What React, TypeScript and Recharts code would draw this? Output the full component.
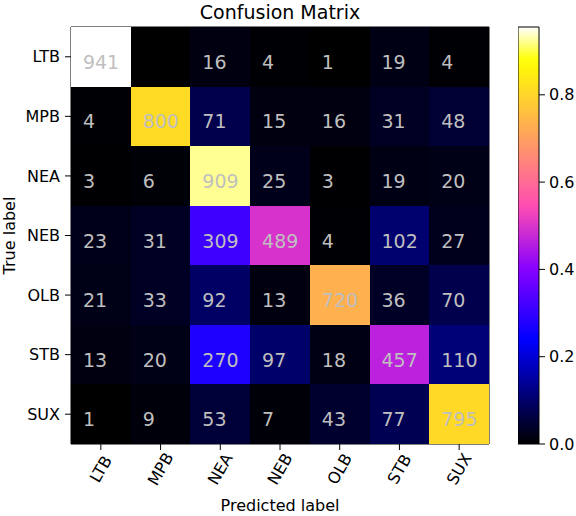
import { Bar, BarChart, Label, Scatter, ScatterChart, XAxis, YAxis } from 'recharts'

// class order is the same for rows (true) and columns (predicted)
const classNames = ['LTB', 'MPB', 'NEA', 'NEB', 'OLB', 'STB', 'SUX']

const ltbRow = [941, 0, 16, 4, 1, 19, 4]
const mpbRow = [4, 800, 71, 15, 16, 31, 48]
const neaRow = [3, 6, 909, 25, 3, 19, 20]
const nebRow = [23, 31, 309, 489, 4, 102, 27]
const olbRow = [21, 33, 92, 13, 720, 36, 70]
const stbRow = [13, 20, 270, 97, 18, 457, 110]
const suxRow = [1, 9, 53, 7, 43, 77, 795]

const confusionRows = [ltbRow, mpbRow, neaRow, nebRow, olbRow, stbRow, suxRow]
const colorbarTicks = [0, 0.2, 0.4, 0.6, 0.8]

const FONT = "'DejaVu Sans', sans-serif"
const TEXT_GREY = '#bfbfbf'

const PLOT_LEFT = 71
const PLOT_TOP = 27
const PLOT_W = 418
const PLOT_H = 417
const CELL_W = PLOT_W / classNames.length
const CELL_H = PLOT_H / classNames.length

const classIndex = classNames.map((_, i) => i)

// colour is row-normalised rate, scaled so the largest rate hits the top of the map
const cells = confusionRows.flatMap((row, i) => {
    const total = row.reduce((a, b) => a + b, 0)
    return row.map((count, j) => ({ pred: j, actual: i, count, rate: count / total }))
})
const VMAX = Math.max(...cells.map((c) => c.rate))
const colorbarData = [{ name: 'scale', top: VMAX }]

const clip = (v: number) => Math.min(1, Math.max(0, v))

// matplotlib gnuplot2 (rgbformulas 30, 31, 32)
const gnuplot2 = (t: number) => {
    const r = clip(t / 0.32 - 0.78125)
    const g = clip(2 * t - 0.84)
    let b: number
    if (t < 0.25) b = 4 * t
    else if (t < 0.42) b = 1
    else if (t < 0.92) b = -2 * t + 1.84
    else b = t / 0.08 - 11.5
    b = clip(b)
    const hex = (v: number) => Math.round(v * 255).toString(16).padStart(2, '0')
    return `#${hex(r)}${hex(g)}${hex(b)}`
}

const gradientStops = Array.from({ length: 41 }, (_, i) => i / 40)

const HeatCell = (props: any) => {
    const { cx, cy, payload } = props
    return (
        <g>
            <rect
                x={cx - CELL_W / 2}
                y={cy - CELL_H / 2}
                width={CELL_W}
                height={CELL_H}
                fill={gnuplot2(payload.rate / VMAX)}
                shapeRendering="crispEdges"
            />
            {payload.count > 0 && (
                <text
                    x={cx - 0.3 * CELL_W}
                    y={cy + 12}
                    fill={TEXT_GREY}
                    fontSize={19}
                    fontFamily={FONT}
                    textAnchor="start"
                >
                    {payload.count}
                </text>
            )}
        </g>
    )
}

const RotatedTick = (props: any) => {
    const { x, y, payload } = props
    const cy = y + 17
    return (
        <text
            x={x}
            y={cy}
            transform={`rotate(-60 ${x} ${cy})`}
            textAnchor="middle"
            dominantBaseline="central"
            fontSize={16}
            fontFamily={FONT}
            fill="#000"
        >
            {classNames[payload.value]}
        </text>
    )
}

const tickStyle = { fill: '#000', fontSize: 16, fontFamily: FONT }

export default function App() {
    return (
        <div style={{ position: 'absolute', left: 0, top: 0, width: 576, height: 516, background: '#fff' }}>
            <div
                style={{
                    position: 'absolute',
                    left: PLOT_LEFT,
                    top: 1,
                    width: PLOT_W,
                    textAlign: 'center',
                    fontFamily: FONT,
                    fontSize: 19,
                    lineHeight: '22px',
                    color: '#000',
                }}
            >
                Confusion Matrix
            </div>

            <div style={{ position: 'absolute', left: 0, top: 0 }}>
                <ScatterChart
                    width={PLOT_LEFT + PLOT_W + 11}
                    height={516}
                    margin={{ top: PLOT_TOP - 1, right: 10, bottom: 0, left: 0 }}
                >
                    <XAxis
                        dataKey="pred"
                        type="number"
                        domain={[-0.5, 6.5]}
                        ticks={classIndex}
                        interval={0}
                        height={72}
                        tickSize={6}
                        tickLine={{ stroke: '#000' }}
                        axisLine={{ stroke: '#000' }}
                        tick={<RotatedTick />}
                    >
                        <Label
                            value="Predicted label"
                            position="insideBottom"
                            offset={5}
                            style={{ fontSize: 16, fontFamily: FONT, fill: '#000' }}
                        />
                    </XAxis>
                    <XAxis
                        xAxisId="top"
                        orientation="top"
                        type="number"
                        domain={[-0.5, 6.5]}
                        height={1}
                        tick={false}
                        tickLine={false}
                        axisLine={{ stroke: '#000' }}
                    />
                    <YAxis
                        dataKey="actual"
                        type="number"
                        domain={[-0.5, 6.5]}
                        reversed
                        ticks={classIndex}
                        interval={0}
                        width={PLOT_LEFT}
                        tickSize={6}
                        tickMargin={5}
                        tickLine={{ stroke: '#000' }}
                        axisLine={{ stroke: '#000' }}
                        tick={tickStyle}
                        tickFormatter={(v: number) => classNames[v]}
                    >
                        <Label
                            content={(p: any) => {
                                const vb = p.viewBox
                                const lx = vb.x + 15
                                const ly = vb.y + vb.height / 2
                                return (
                                    <text
                                        x={lx}
                                        y={ly}
                                        transform={`rotate(-90 ${lx} ${ly})`}
                                        textAnchor="middle"
                                        fontSize={16}
                                        fontFamily={FONT}
                                        fill="#000"
                                    >
                                        True label
                                    </text>
                                )
                            }}
                        />
                    </YAxis>
                    <YAxis
                        yAxisId="right"
                        orientation="right"
                        type="number"
                        domain={[-0.5, 6.5]}
                        width={1}
                        tick={false}
                        tickLine={false}
                        axisLine={{ stroke: '#000' }}
                    />
                    <Scatter data={cells} shape={<HeatCell />} isAnimationActive={false} />
                </ScatterChart>
            </div>

            <div style={{ position: 'absolute', left: 518, top: 0 }}>
                <BarChart
                    width={58}
                    height={516}
                    data={colorbarData}
                    barCategoryGap={0}
                    margin={{ top: PLOT_TOP, right: 0, bottom: 516 - PLOT_TOP - PLOT_H, left: 0 }}
                >
                    <defs>
                        <linearGradient id="gnuplot2" x1="0" y1="1" x2="0" y2="0">
                            {gradientStops.map((t) => (
                                <stop key={t} offset={t} stopColor={gnuplot2(t)} />
                            ))}
                        </linearGradient>
                    </defs>
                    <XAxis dataKey="name" hide />
                    <YAxis
                        orientation="right"
                        type="number"
                        domain={[0, VMAX]}
                        ticks={colorbarTicks}
                        interval={0}
                        width={37}
                        tickSize={6}
                        tickMargin={4}
                        tickLine={{ stroke: '#000' }}
                        axisLine={false}
                        tick={tickStyle}
                        tickFormatter={(v: number) => v.toFixed(1)}
                    />
                    <Bar
                        dataKey="top"
                        fill="url(#gnuplot2)"
                        stroke="#000"
                        strokeWidth={1}
                        isAnimationActive={false}
                    />
                </BarChart>
            </div>
        </div>
    )
}
